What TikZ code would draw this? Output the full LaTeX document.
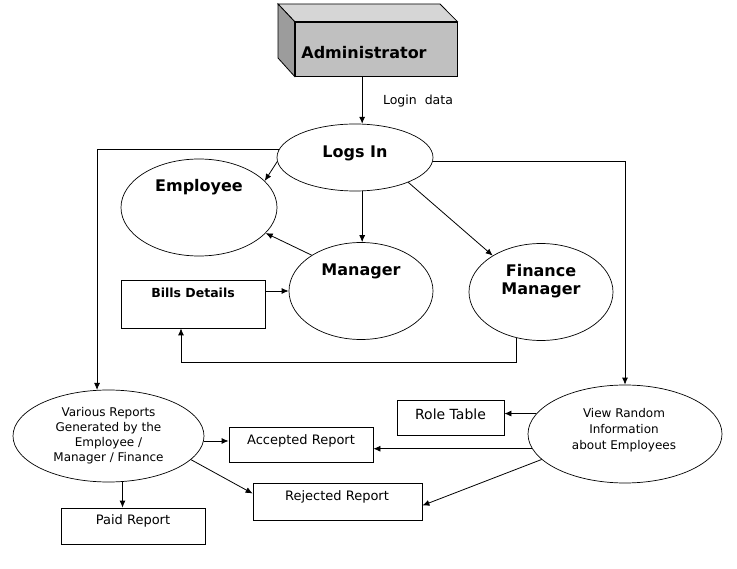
\documentclass[tikz,border=0pt]{standalone}
\usepackage{fontspec}
\setmainfont{DejaVu Sans}
\usetikzlibrary{arrows.meta,shapes.geometric,calc}
\definecolor{frontc}{HTML}{C0C0C0}
\definecolor{topc}{HTML}{D6D6D6}
\definecolor{sidec}{HTML}{9C9C9C}
\begin{document}
\begin{tikzpicture}[x=1pt,y=-1pt,
  ell/.style={draw,ellipse,inner sep=0pt,line width=0.7pt},
  box/.style={draw,rectangle,inner sep=0pt,line width=0.8pt},
  ttl/.style={font=\bfseries\fontsize{16}{18}\selectfont,align=center,inner sep=0pt},
  txt/.style={font=\fontsize{12}{15}\selectfont,align=center,inner sep=0pt},
  rtxt/.style={font=\fontsize{13}{15}\selectfont,inner sep=0pt},
  arr/.style={-{Latex[length=7pt,width=6pt]},line width=0.8pt},
  ln/.style={line width=0.8pt}]
\useasboundingbox (0,0) rectangle (737,569);
\fill[white] (0,0) rectangle (737,569);

% Administrator 3D box
\node[box,fill=frontc,minimum width=162pt,minimum height=54pt] (admin) at (376,49) {};
\draw[ln,fill=topc] (278,4) -- (440,4) -- (admin.north east) -- (admin.north west) -- cycle;
\draw[ln,fill=sidec] (278,4) -- (admin.north west) -- (admin.south west) -- (278,58) -- cycle;
\node[ttl] (admint) at (364,53) {Administrator};

% Ellipses
\node[ell,minimum width=156pt,minimum height=67pt] (logs) at (355,157.5) {};
\node[ttl] (logst) at (355,153) {Logs In};
\node[ell,minimum width=156pt,minimum height=97pt] (emp) at (199,207.5) {};
\node[ttl] (empt) at (199,187) {Employee};
\node[ell,minimum width=144pt,minimum height=97pt] (man) at (361,291) {};
\node[ttl] (mant) at (361,271) {Manager};
\node[ell,minimum width=144pt,minimum height=97pt] (fin) at (541,292) {};
\node[ttl] (fint) at (541,281.5) {Finance\\Manager};
\node[ell,minimum width=191pt,minimum height=92pt] (vr) at (108.5,436) {};
\node[txt] (vrt) at (108.5,436) {Various Reports\\Generated by the\\Employee /\\Manager / Finance};
\node[ell,minimum width=194pt,minimum height=98pt] (view) at (625,434) {};
\node[txt,font=\fontsize{12}{16}\selectfont] (viewt) at (624,430) {View Random\\Information\\about Employees};

% Boxes
\node[box,minimum width=144pt,minimum height=48pt] (bills) at (193,304) {};
\node[font=\bfseries\fontsize{12.5}{15}\selectfont,inner sep=0pt] (billst) at (193,293) {Bills Details};
\node[box,minimum width=144pt,minimum height=35pt] (acc) at (301,444.5) {};
\node[rtxt] (acct) at (301,441) {Accepted Report};
\node[box,minimum width=169pt,minimum height=37pt] (rej) at (337.5,501.5) {};
\node[rtxt] (rejt) at (337,497) {Rejected Report};
\node[box,minimum width=144pt,minimum height=36pt] (paid) at (133,526) {};
\node[rtxt] (paidt) at (133,521) {Paid Report};
\node[box,minimum width=107pt,minimum height=35pt] (role) at (450.5,417.5) {};
\node[rtxt,font=\fontsize{14}{16}\selectfont] (rolet) at (450.5,414) {Role Table};

% Label
\node[font=\fontsize{12.5}{15}\selectfont,inner sep=0pt] (login) at (418,101) {Login~ data};

% Connectors
\draw[arr] (admin.south -| logs.78) -- (logs.78);
\draw[arr] (logs.174) -| (vr.104);
\draw[arr] (logs.-3) -| (view.north);
\draw[arr] (logs.183) -- (emp.22);
\draw[arr] (logs.-78) -- (logs.-78 |- man.north);
\draw[arr] (logs.-25) -- (fin.143);
\draw[arr] (man.144) -- (emp.-21);
\draw[arr] (bills.east |- man.west) -- (man.west);
\draw[arr] (fin.-118) -- ++(0,24) -| ([xshift=-12pt]bills.south);
\draw[arr] (vr.-3) -- (vr.-3 -| acc.west);
\draw[arr] (vr.-16) -- ([yshift=8pt]rej.west);
\draw[arr] (vr.-73.5) -- (vr.-73.5 |- paid.north);
\draw[arr] (view.167) -- (view.167 -| role.east);
\draw[arr] (view.189) -- (view.189 -| acc.east);
\draw[arr] (view.197) -- ([yshift=-4pt]rej.east);
\end{tikzpicture}
\end{document}
